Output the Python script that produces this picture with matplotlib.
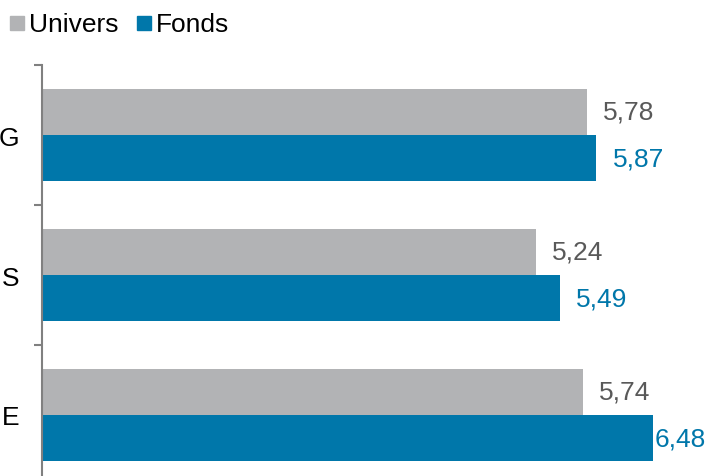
import numpy as np
import matplotlib.pyplot as plt
from matplotlib.patches import Rectangle

# -----------------------------
# Data
# -----------------------------
categories = ['E', 'S', 'G']           # bottom to top
univers = [5.74, 5.24, 5.78]
fonds = [6.48, 5.49, 5.87]
univers_labels = ['5,74', '5,24', '5,78']
fonds_labels = ['6,48', '5,49', '5,87']

# -----------------------------
# Style
# -----------------------------
grey = '#B2B3B5'
blue = '#0077AA'
grey_txt = '#595959'
fs = 19
plt.rcParams['font.family'] = ['Liberation Sans', 'DejaVu Sans']

W, H = 709, 477
fig = plt.figure(figsize=(W / 100, H / 100), dpi=100)
# axes from y=65px down to 485px (slightly below figure edge)
ax = fig.add_axes([42 / W, (H - 486) / H, 665 / W, 420 / H])

y = np.arange(len(categories))
bh = 0.325
off = 0.166
ax.barh(y + off, univers, height=bh, color=grey, edgecolor='none')
ax.barh(y - off, fonds, height=bh, color=blue, edgecolor='none')

ax.set_xlim(0, 665 / 94.3)
ax.set_ylim(-0.5, len(categories) - 0.5)

# value labels, offset in pixels (last one squeezed against edge)
u_pad = [16, 16, 16]
f_pad = [2, 16, 17]
for i in range(len(categories)):
    ax.annotate(univers_labels[i], (univers[i], y[i] + off), xytext=(u_pad[i] * 0.72, 0),
                textcoords='offset points', va='center', ha='left',
                fontsize=fs, color=grey_txt)
    ax.annotate(fonds_labels[i], (fonds[i], y[i] - off), xytext=(f_pad[i] * 0.72, 0),
                textcoords='offset points', va='center', ha='left',
                fontsize=fs, color=blue)

# spines / ticks
for s in ['top', 'right', 'bottom']:
    ax.spines[s].set_visible(False)
ax.spines['left'].set_color('#808080')
ax.spines['left'].set_linewidth(1.5)
ax.set_xticks([])
ax.set_yticks(np.arange(-0.5, len(categories), 1.0))
ax.set_yticklabels([])
ax.tick_params(axis='y', length=6, width=1.5, color='#808080')
ax.set_yticks(y, minor=True)
ax.set_yticklabels(categories, minor=True, fontsize=fs)
ax.tick_params(axis='y', which='minor', length=0, pad=16.5)

# legend drawn by hand in figure pixels
for px, col, lab in [(10, grey, 'Univers'), (137, blue, 'Fonds')]:
    fig.patches.append(Rectangle((px / W, (H - 31) / H), 14 / W, 14 / H,
                                 transform=fig.transFigure, color=col))
    fig.text((px + 19) / W, (H - 25) / H, lab, fontsize=fs, va='center', ha='left')

fig.savefig('out.png', dpi=100)
